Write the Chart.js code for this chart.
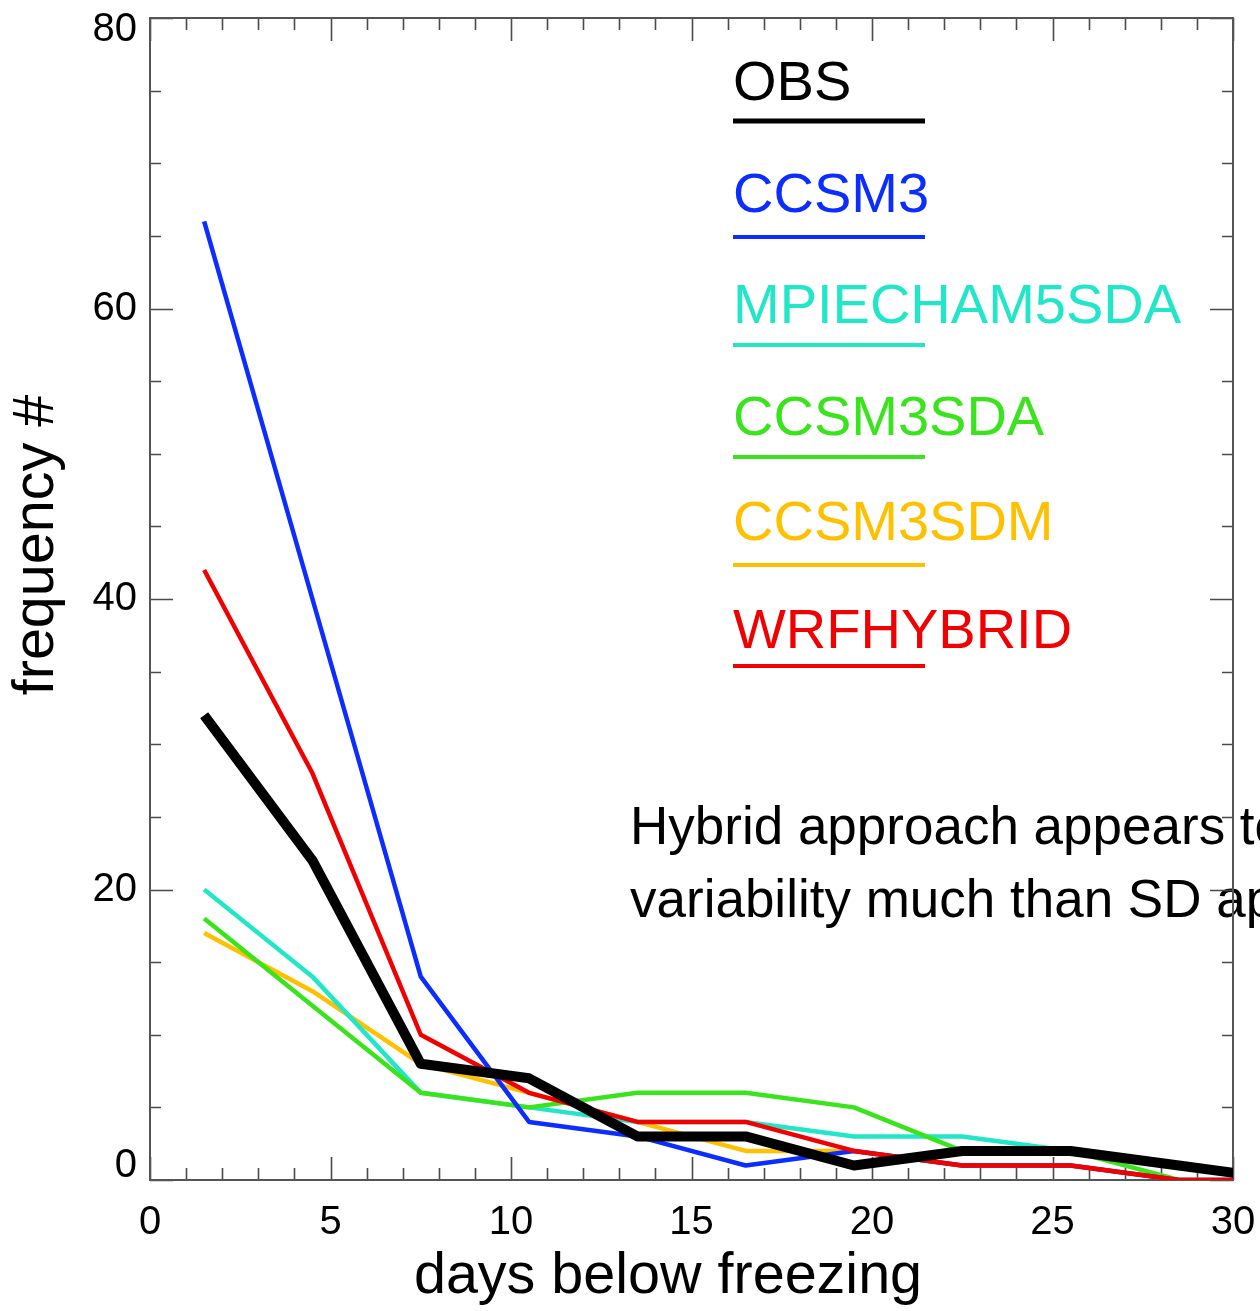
<!DOCTYPE html>
<html><head><meta charset="utf-8">
<script src="https://cdn.jsdelivr.net/npm/chart.js@4.4.1/dist/chart.umd.min.js"></script>
<style>html,body{margin:0;padding:0;background:#fff;overflow:hidden}canvas{display:block}</style>
</head><body>
<canvas id="c" width="1260" height="1311"></canvas>
<script>
// ---- data ----
const daysBins      = [1.5, 4.5, 7.5, 10.5, 13.5, 16.5, 19.5, 22.5, 25.5, 28.5, 31.5];
const obs           = [32, 22, 8, 7, 3, 3, 1, 2, 2, 1, 0];
const ccsm3         = [66, 40, 14, 4, 3, 1, 2, 1, 1, 0, 0];
const mpiecham5sda  = [20, 14, 6, 5, 4, 4, 3, 3, 2, 1, 0];
const ccsm3sda      = [18, 12, 6, 5, 6, 6, 5, 2, 2, 0, 0];
const ccsm3sdm      = [17, 13, 8, 6, 4, 2, 2, 1, 1, 0, 0];
const wrfhybrid     = [42, 28, 10, 6, 4, 4, 2, 1, 1, 0, 0];
const seriesNames   = ["OBS", "CCSM3", "MPIECHAM5SDA", "CCSM3SDA", "CCSM3SDM", "WRFHYBRID"];
const xTicks        = [0, 5, 10, 15, 20, 25, 30];
const yTicks        = [0, 20, 40, 60, 80];
const xTitle        = "days below freezing";
const yTitle        = "frequency #";
const noteLines     = ["Hybrid approach appears to", "variability much than SD approaches"];

const FONT = '"Liberation Sans", Arial, Helvetica, sans-serif';
const colors = {
  OBS: '#000000', CCSM3: '#0b2dff', MPIECHAM5SDA: '#22e6c8',
  CCSM3SDA: '#3ae41c', CCSM3SDM: '#ffc000', WRFHYBRID: '#f00000'
};
const pts = arr => daysBins.map((x, i) => ({x: x, y: arr[i]}));

// draw order: first dataset is drawn on top
const datasets = [
  {label: 'OBS', data: pts(obs), borderColor: colors.OBS, borderWidth: 10},
  {label: 'WRFHYBRID', data: pts(wrfhybrid), borderColor: colors.WRFHYBRID, borderWidth: 4.5},
  {label: 'CCSM3', data: pts(ccsm3), borderColor: colors.CCSM3, borderWidth: 4.5},
  {label: 'CCSM3SDA', data: pts(ccsm3sda), borderColor: colors.CCSM3SDA, borderWidth: 4.5},
  {label: 'MPIECHAM5SDA', data: pts(mpiecham5sda), borderColor: colors.MPIECHAM5SDA, borderWidth: 4.5},
  {label: 'CCSM3SDM', data: pts(ccsm3sdm), borderColor: colors.CCSM3SDM, borderWidth: 4.5}
].map(d => Object.assign(d, {pointRadius: 0, tension: 0, fill: false, borderJoinStyle: 'round', borderCapStyle: 'butt'}));

const frame = {
  id: 'frame',
  beforeDraw(chart) {
    const ctx = chart.ctx;
    ctx.save();
    ctx.fillStyle = '#fff';
    ctx.fillRect(0, 0, chart.width, chart.height);
    // annotation text (under the axis box)
    ctx.font = '53px ' + FONT;
    ctx.fillStyle = '#000';
    ctx.textAlign = 'left';
    ctx.textBaseline = 'alphabetic';
    ctx.fillText(noteLines[0], 630, 844);
    ctx.fillText(noteLines[1], 630, 917);
    ctx.restore();
  },
  beforeDatasetsDraw(chart) {
    const ctx = chart.ctx, a = chart.chartArea;
    const xs = chart.scales.x, ys = chart.scales.y;
    ctx.save();
    ctx.strokeStyle = '#4a4a4a';
    ctx.lineWidth = 1.6;
    for (let v = xs.min; v <= xs.max; v++) {
      const px = Math.round(xs.getPixelForValue(v)) + 0.5;
      const len = (v % 5 === 0) ? 23 : 12;
      ctx.beginPath();
      ctx.moveTo(px, a.bottom); ctx.lineTo(px, a.bottom - len);
      ctx.moveTo(px, a.top); ctx.lineTo(px, a.top + len);
      ctx.stroke();
    }
    for (let v = ys.min; v <= ys.max; v += 5) {
      const py = Math.round(ys.getPixelForValue(v)) + 0.5;
      const len = (v % 20 === 0) ? 23 : 11;
      ctx.beginPath();
      ctx.moveTo(a.left, py); ctx.lineTo(a.left + len, py);
      ctx.moveTo(a.right, py); ctx.lineTo(a.right - len, py);
      ctx.stroke();
    }
    ctx.strokeStyle = '#555';
    ctx.lineWidth = 2;
    ctx.strokeRect(a.left, a.top, a.right - a.left, a.bottom - a.top);
    ctx.restore();
  },
  afterDraw(chart) {
    const ctx = chart.ctx, a = chart.chartArea, ys = chart.scales.y;
    ctx.save();
    ctx.fillStyle = '#000';
    // y tick labels
    ctx.font = '40px ' + FONT;
    ctx.textAlign = 'right';
    ctx.textBaseline = 'middle';
    yTicks.forEach(v => {
      let py = ys.getPixelForValue(v);
      py = Math.min(Math.max(py, a.top + 12), a.bottom - 14);
      ctx.fillText(String(v), a.left - 13, py);
    });
    // axis titles
    ctx.font = '57.5px ' + FONT;
    ctx.textAlign = 'center';
    ctx.fillText(xTitle, 668, 1277);
    ctx.translate(37, 545);
    ctx.rotate(-Math.PI / 2);
    ctx.fillText(yTitle, 0, 0);
    ctx.restore();
    // legend
    const baseY = [100, 212, 323, 435, 540, 648];
    const lineY = [121, 237, 345, 457, 565, 666];
    ctx.save();
    ctx.font = '56px ' + FONT;
    ctx.textAlign = 'left';
    ctx.textBaseline = 'alphabetic';
    seriesNames.forEach((name, i) => {
      const ds = chart.data.datasets.find(d => d.label === name);
      ctx.fillStyle = ds.borderColor;
      ctx.fillText(name, 733, baseY[i]);
      ctx.strokeStyle = ds.borderColor;
      ctx.lineWidth = name === 'OBS' ? 5 : 4;
      ctx.beginPath();
      ctx.moveTo(733, lineY[i]); ctx.lineTo(925, lineY[i]);
      ctx.stroke();
    });
    ctx.restore();
  }
};

new Chart(document.getElementById('c'), {
  type: 'line',
  data: {datasets: datasets},
  options: {
    responsive: false,
    animation: false,
    devicePixelRatio: 1,
    layout: {padding: {top: 18, right: 27, left: 0, bottom: 0}},
    plugins: {legend: {display: false}, tooltip: {enabled: false}},
    scales: {
      x: {
        type: 'linear', min: 0, max: 30,
        afterBuildTicks: s => { s.ticks = xTicks.map(v => ({value: v})); },
        ticks: {color: '#000', font: {size: 40, family: FONT}, padding: 19, maxRotation: 0, autoSkip: false},
        grid: {display: false, drawTicks: false},
        border: {display: false},
        afterFit: s => { s.height = 131; s.paddingLeft = 0; s.paddingRight = 0; }
      },
      y: {
        type: 'linear', min: 0, max: 80,
        afterBuildTicks: s => { s.ticks = yTicks.map(v => ({value: v})); },
        ticks: {display: false},
        grid: {display: false, drawTicks: false},
        border: {display: false},
        afterFit: s => { s.width = 150; s.paddingTop = 0; s.paddingBottom = 0; }
      }
    }
  },
  plugins: [frame]
});
</script>
</body></html>
